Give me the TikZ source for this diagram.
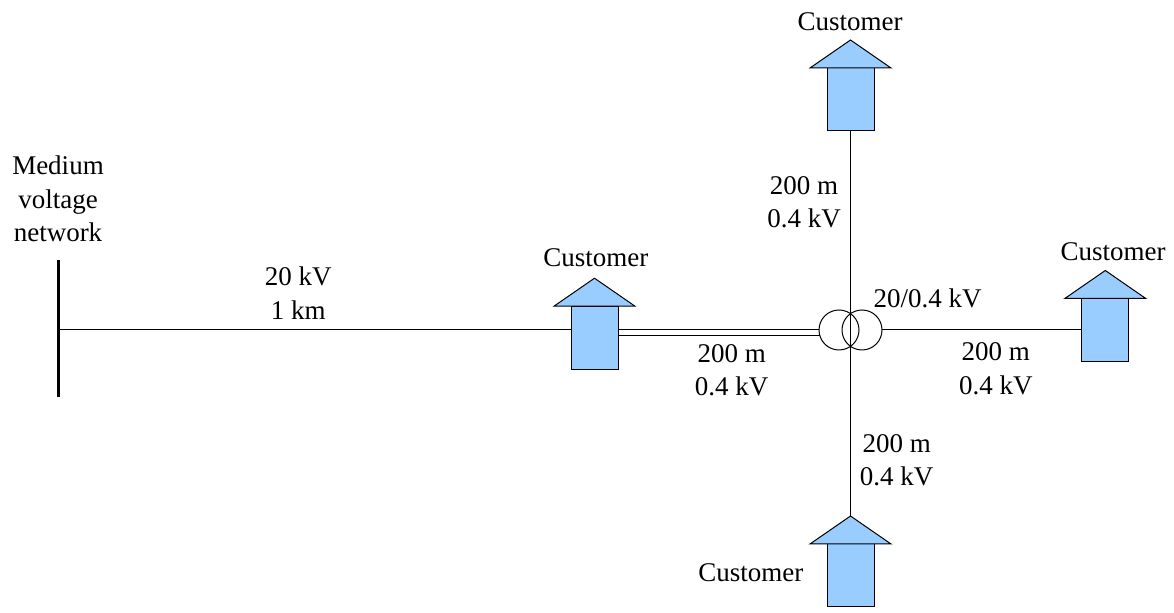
\documentclass[tikz,border=0pt]{standalone}
\usepackage{fontspec}
\setmainfont{Liberation Serif}
\usetikzlibrary{calc}
\definecolor{custblue}{HTML}{99CCFF}
\newcommand\drawcusthead[1]{%
  \draw[custhead] ($(#1.north)+(-40.5,0)$) -- ($(#1.north)+(0,-28)$) -- ($(#1.north)+(40.5,0)$) -- cycle;}
\begin{document}
\begin{tikzpicture}[x=0.5pt,y=-0.5pt,
  wire/.style={draw=black,line width=0.5pt},
  busbar/.style={draw=black,line width=1.5pt},
  custbody/.style={draw=black,fill=custblue,line width=0.5pt,minimum width=23.5pt,minimum height=31.5pt,inner sep=0pt,outer sep=0pt},
  custhead/.style={draw=black,fill=custblue,line width=0.5pt,line join=miter},
  winding/.style={circle,draw=black,line width=0.5pt,minimum size=20pt,inner sep=0pt,outer sep=0pt},
  lbl/.style={font=\fontsize{13.5}{16.65}\selectfont,anchor=base,align=center,inner sep=0pt}
]
\useasboundingbox (0,0) rectangle (1174,613);
% bus bar
\coordinate (bustop) at (58.3,260);
\coordinate (busbot) at (58.3,397);
\draw[busbar] (bustop) -- (busbot);
% customers
\node[custbody] (cm) at (594.5,337.7) {};
\node[custbody] (ct) at (850.5,99.5) {};
\node[custbody] (cr) at (1105.3,330) {};
\node[custbody] (cb) at (850.5,575.5) {};
\drawcusthead{cm}
\drawcusthead{ct}
\drawcusthead{cr}
\drawcusthead{cb}
\coordinate (cbtip) at ($(cb.north)+(0,-28)$);
% transformer
\node[winding] (t1) at (839,330) {};
\node[winding] (t2) at (862,330) {};
% wires
\draw[wire] (bustop |- t1.west) -- (t1.west -| cm.west);
\draw[wire] (t1.west -| cm.east) -- (t1.west);
\draw[wire] ($(t1.west -| cm.east)+(0,6)$) -- ($(t1.west)+(0.9,6)$);
\draw[wire] (t2.east) -- (t2.east -| cr.west);
\draw[wire] (ct.south) -- (cbtip);
% labels (base = baseline of the last line)
\node[lbl] (mv) at (58,241.6) {Medium\\voltage\\network};
\node[lbl] (l20) at (298.3,319.3) {20 kV\\1 km};
\node[lbl] (ltop) at (804,227.7) {200 m\\0.4 kV};
\node[lbl] (lleft) at (731.7,395.7) {200 m\\0.4 kV};
\node[lbl] (lright) at (995.8,394.3) {200 m\\0.4 kV};
\node[lbl] (lbot) at (896.7,486) {200 m\\0.4 kV};
\node[lbl] (ltr) at (927.5,307.3) {20/0.4 kV};
\node[lbl] (ncm) at (595.8,266.7) {Customer};
\node[lbl] (nct) at (850,31) {Customer};
\node[lbl] (ncr) at (1113,260.5) {Customer};
\node[lbl] (ncb) at (750.8,581.7) {Customer};
\end{tikzpicture}
\end{document}
